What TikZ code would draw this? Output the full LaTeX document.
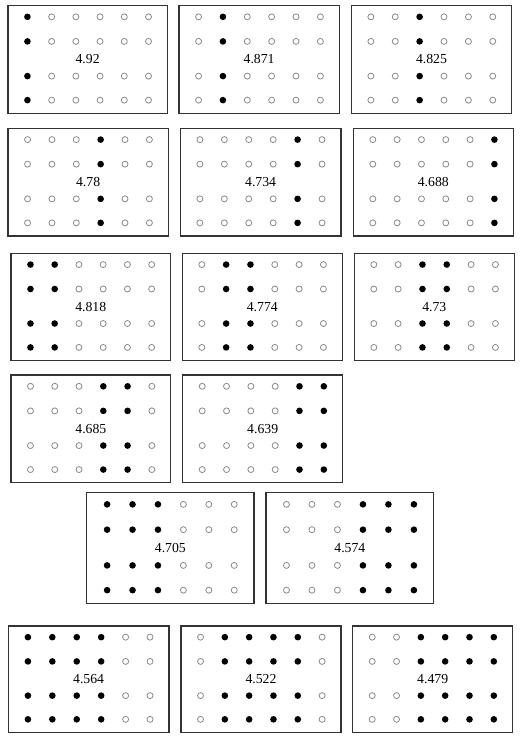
\documentclass[tikz,border=0pt]{standalone}
\usepackage{fontspec}
\setmainfont{Liberation Serif}
\usetikzlibrary{fit}
\definecolor{framegray}{HTML}{333333}
\definecolor{dotgray}{HTML}{8A8A8A}
\tikzset{
  panel/.style={draw=framegray, line width=1.2bp, inner sep=0pt},
  vallabel/.style={font=\fontsize{13.8}{16}\selectfont, inner sep=0pt, text=black},
  fulldot/.style={fill=black},
  emptydot/.style={draw=dotgray, line width=0.8bp, fill=white},
}
\newcommand{\dotpanel}[8]{%
  \node[panel, fit={(#2,#3) (#4,#5)}] (#1) {};
  \node[vallabel] (#1-v) at (#1.center) {#8};
  \foreach \k in {1,...,6}{
    \foreach \r/\fy in {1/0.105, 2/0.333, 3/0.655, 4/0.878}{
      \pgfmathsetmacro{\px}{#2+(#4-#2)*(0.122+0.152*(\k-1))}
      \pgfmathsetmacro{\py}{#3+(#5-#3)*\fy}
      \pgfmathtruncatemacro{\isfull}{and(\k>=#6,\k<=#7)}
      \ifnum\isfull=1
        \fill[fulldot] (\px,\py) circle[radius=3.3bp];
      \else
        \draw[emptydot] (\px,\py) circle[radius=3bp];
      \fi
    }
  }
}
\begin{document}
\begin{tikzpicture}[x=1bp, y=-1bp]
\useasboundingbox (0,0) rectangle (523,738);
% row 1
\dotpanel{p1}{8}{5.5}{167.3}{113.3}{1}{1}{4.92}
\dotpanel{p2}{179}{5.5}{339.3}{113.3}{2}{2}{4.871}
\dotpanel{p3}{351.3}{5.5}{511.7}{113.3}{3}{3}{4.825}
% row 2
\dotpanel{p4}{8}{128.3}{168.3}{236}{4}{4}{4.78}
\dotpanel{p5}{180.3}{128.3}{341}{236}{5}{5}{4.734}
\dotpanel{p6}{353.3}{128.3}{513.3}{236}{6}{6}{4.688}
% row 3
\dotpanel{p7}{11}{253.3}{170.5}{360.5}{1}{2}{4.818}
\dotpanel{p8}{182.3}{253.3}{342.3}{360.5}{2}{3}{4.774}
\dotpanel{p9}{354.3}{253.3}{514.3}{360.5}{3}{4}{4.73}
% row 4
\dotpanel{p10}{11}{375}{170.7}{482.7}{4}{5}{4.685}
\dotpanel{p11}{182.7}{375}{342.7}{482.7}{5}{6}{4.639}
% row 5
\dotpanel{p12}{86.7}{492.7}{254}{603.7}{1}{3}{4.705}
\dotpanel{p13}{266}{492.7}{433.7}{603.7}{4}{6}{4.574}
% row 6
\dotpanel{p14}{8.3}{626}{169}{732.3}{1}{4}{4.564}
\dotpanel{p15}{181}{626}{341}{732.3}{2}{5}{4.522}
\dotpanel{p16}{352.7}{626}{512.7}{732.3}{3}{6}{4.479}
\end{tikzpicture}
\end{document}
